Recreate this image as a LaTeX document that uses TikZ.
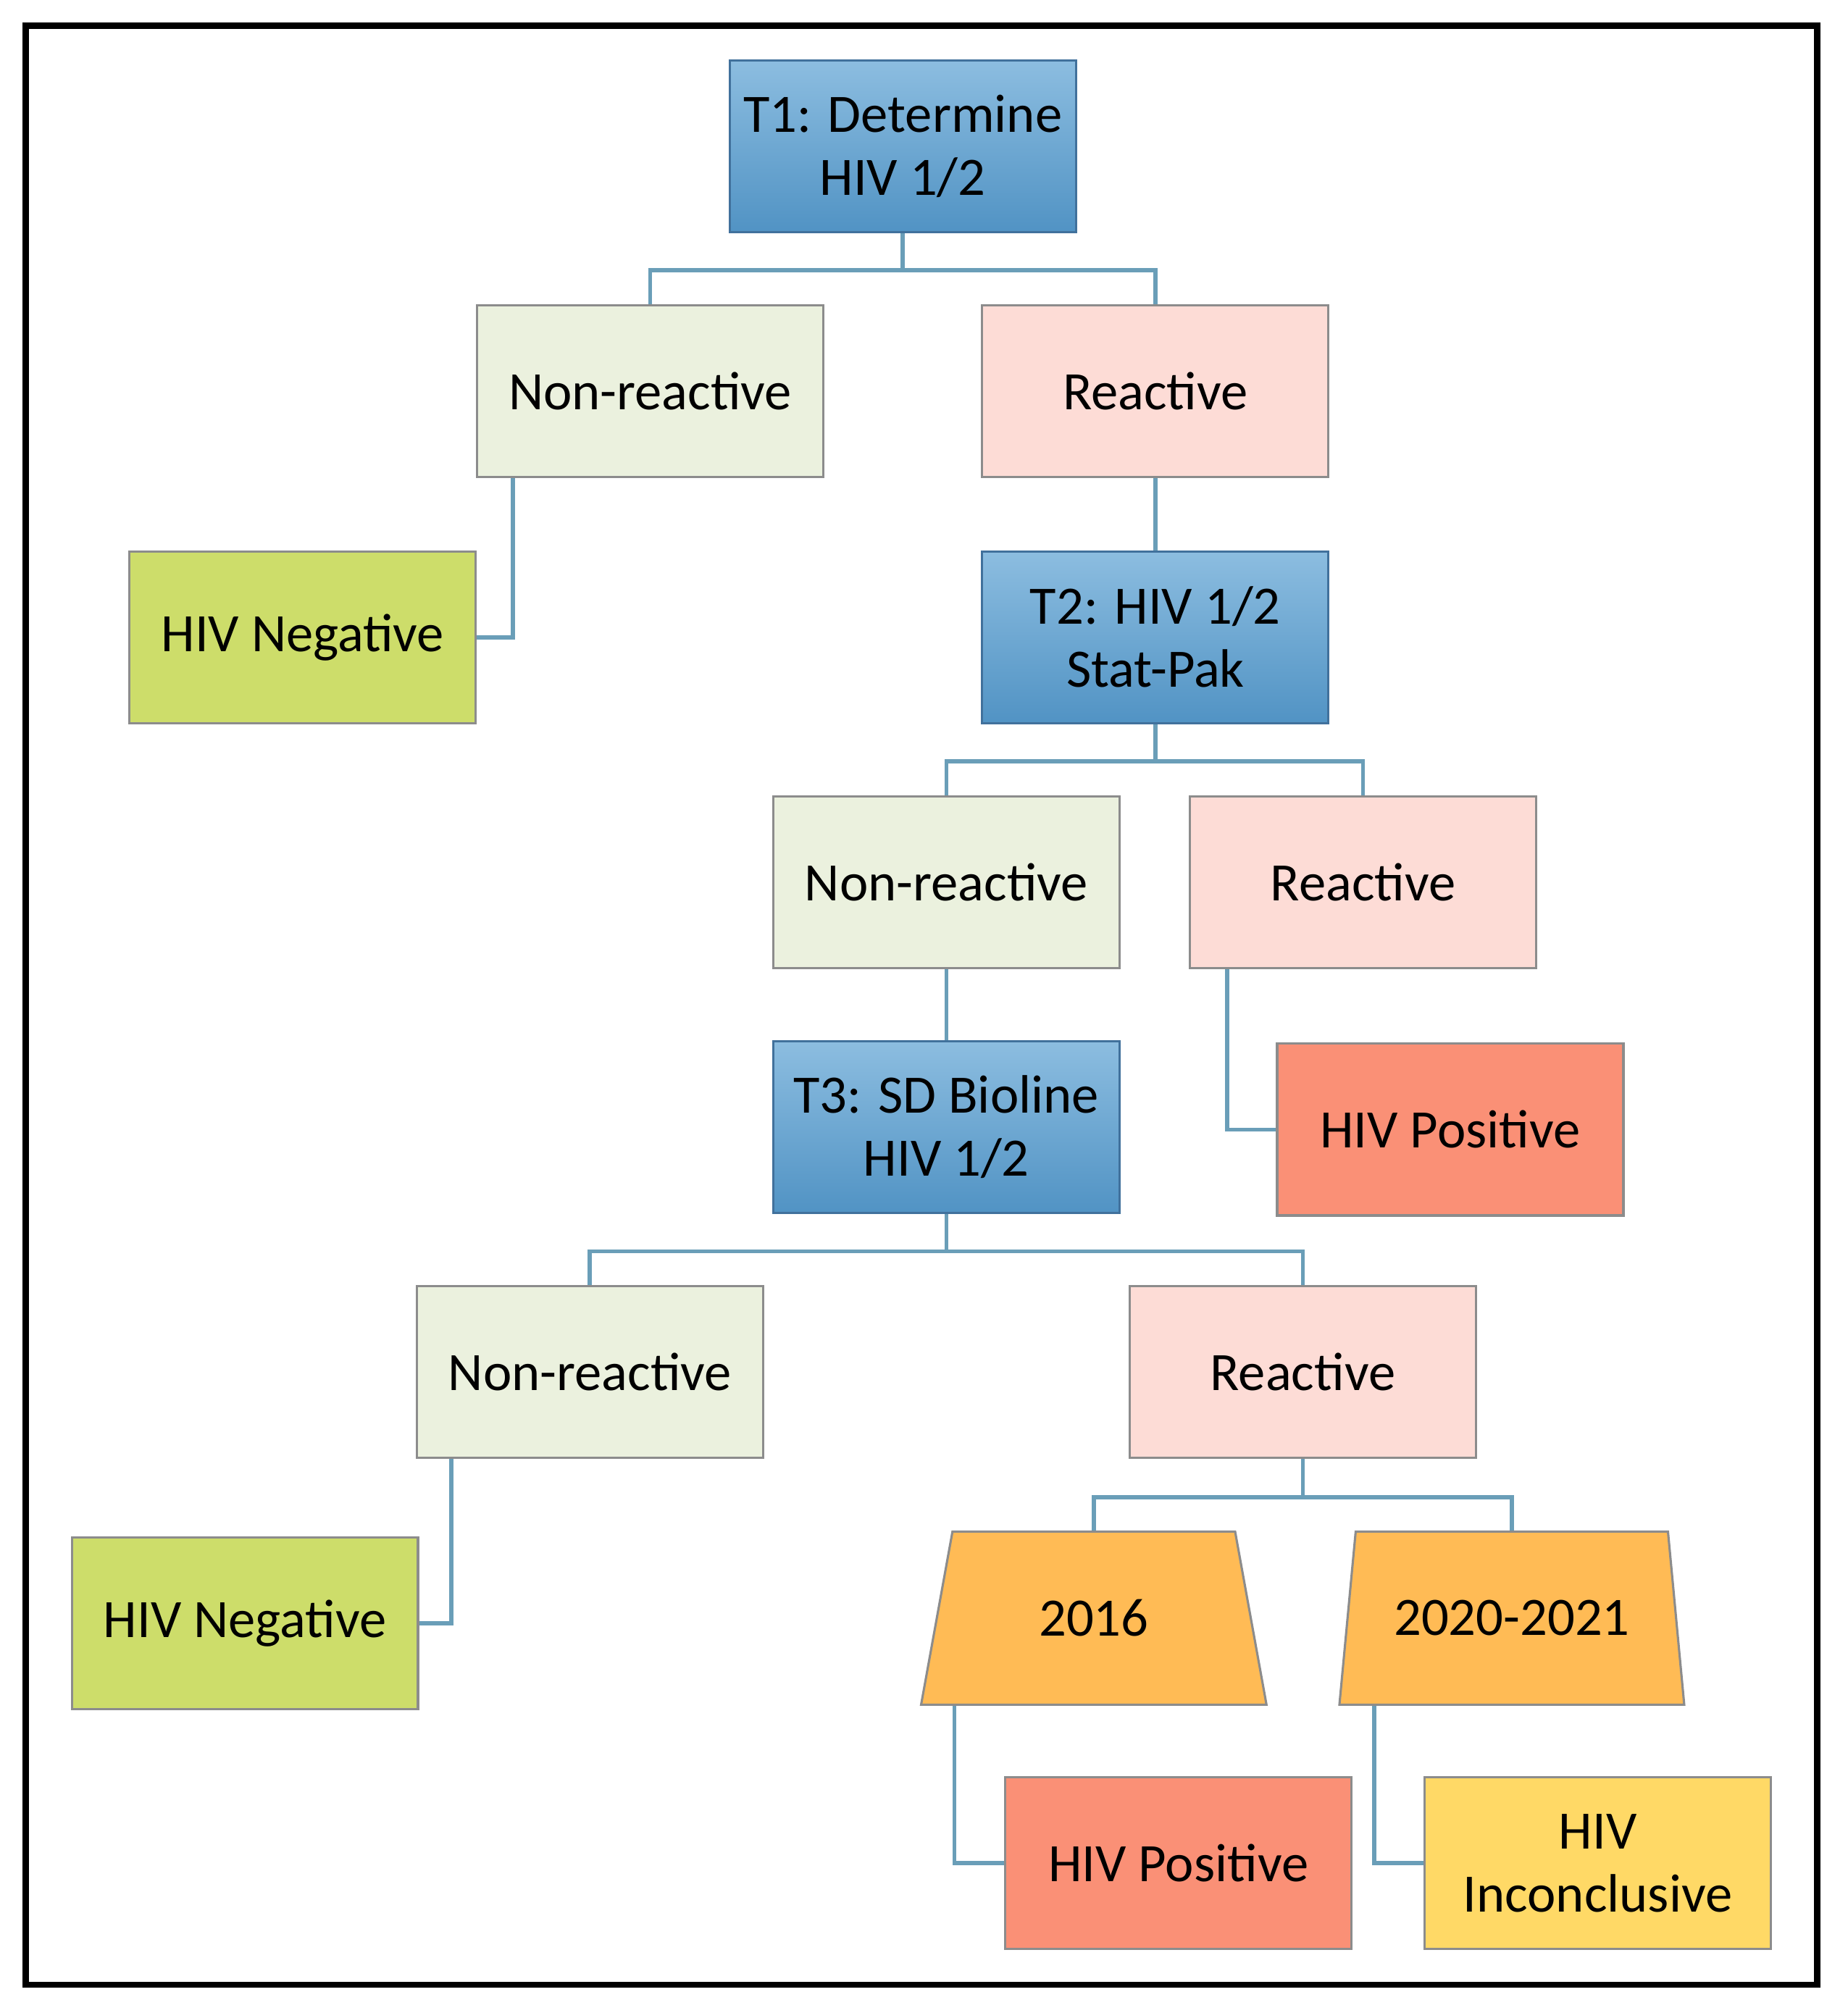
\documentclass[tikz,border=0pt]{standalone}
\usepackage{fontspec}
\setmainfont{Carlito}
\usetikzlibrary{shapes.geometric,calc}
\definecolor{tblueA}{HTML}{8CBDE0}
\definecolor{tblueB}{HTML}{5193C4}
\definecolor{tborder}{HTML}{41719C}
\definecolor{nrfill}{HTML}{EBF1DE}
\definecolor{rfill}{HTML}{FDDCD6}
\definecolor{negfill}{HTML}{CDDD6A}
\definecolor{posfill}{HTML}{FA9076}
\definecolor{yrfill}{HTML}{FFBB55}
\definecolor{incfill}{HTML}{FFD966}
\definecolor{edge}{HTML}{6A9EB8}
\begin{document}
\begin{tikzpicture}[x=0.1mm,y=-0.1mm,
  box/.style={draw=black!45,line width=0.5pt,minimum width=27mm,minimum height=13.4mm,
    align=center,inner sep=1pt,font=\fontsize{12}{14}\selectfont},
  test/.style={box,draw=tborder,top color=tblueA,bottom color=tblueB},
  nr/.style={box,fill=nrfill},
  re/.style={box,fill=rfill},
  negbox/.style={box,fill=negfill},
  posbox/.style={box,fill=posfill},
  incbox/.style={box,fill=incfill},
  yr/.style={box,fill=yrfill,trapezium,trapezium left angle=74,trapezium right angle=74,
    trapezium stretches=true,minimum height=13.5mm},
  conn/.style={draw=edge,line width=0.9pt}]
\draw[line width=1.4pt] (20,20) rectangle (1417,1548);
\useasboundingbox (0,0) rectangle (1441,1570);
\node[test] (T1) at (704,114) {T1: Determine\\HIV 1/2};
\node[nr] (NR1) at (507,305) {Non-reactive};
\node[re] (R1) at (901,305) {Reactive};
\node[negbox] (Neg1) at (236,497) {HIV Negative};
\node[test] (T2) at (901,497) {T2: HIV 1/2\\Stat-Pak};
\node[nr] (NR2) at (738,688) {Non-reactive};
\node[re] (R2) at (1063,688) {Reactive};
\node[test] (T3) at (738,879) {T3: SD Bioline\\HIV 1/2};
\node[posbox] (Pos1) at (1131,881) {HIV Positive};
\node[nr] (NR3) at (460,1070) {Non-reactive};
\node[re] (R3) at (1016,1070) {Reactive};
\node[negbox] (Neg2) at (191,1266) {HIV Negative};
\node[yr] (Y1) at (853,1262) {2016};
\node[yr] (Y2) at (1179,1262) {2020-2021};
\node[posbox] (Pos2) at (919,1453) {HIV Positive};
\node[incbox] (Inc) at (1246,1453) {HIV\\Inconclusive};
% tree connectors
\draw[conn] (T1.south) -- ++(0,29) -| (NR1.north);
\draw[conn] (T1.south) -- ++(0,29) -| (R1.north);
\draw[conn] (R1.south) -- (T2.north);
\draw[conn] ($(NR1.south west)+(29,0)$) |- (Neg1.east);
\draw[conn] (T2.south) -- ++(0,29) -| (NR2.north);
\draw[conn] (T2.south) -- ++(0,29) -| (R2.north);
\draw[conn] (NR2.south) -- (T3.north);
\draw[conn] ($(R2.south west)+(30,0)$) |- (Pos1.west);
\draw[conn] (T3.south) -- ++(0,29) -| (NR3.north);
\draw[conn] (T3.south) -- ++(0,29) -| (R3.north);
\draw[conn] ($(NR3.south west)+(28,0)$) |- (Neg2.east);
\draw[conn] (R3.south) -- ++(0,30) -| (Y1.north);
\draw[conn] (R3.south) -- ++(0,30) -| (Y2.north);
\draw[conn] ($(Y1.bottom left corner)+(27,0)$) |- (Pos2.west);
\draw[conn] ($(Y2.bottom left corner)+(28,0)$) |- (Inc.west);
\end{tikzpicture}
\end{document}
